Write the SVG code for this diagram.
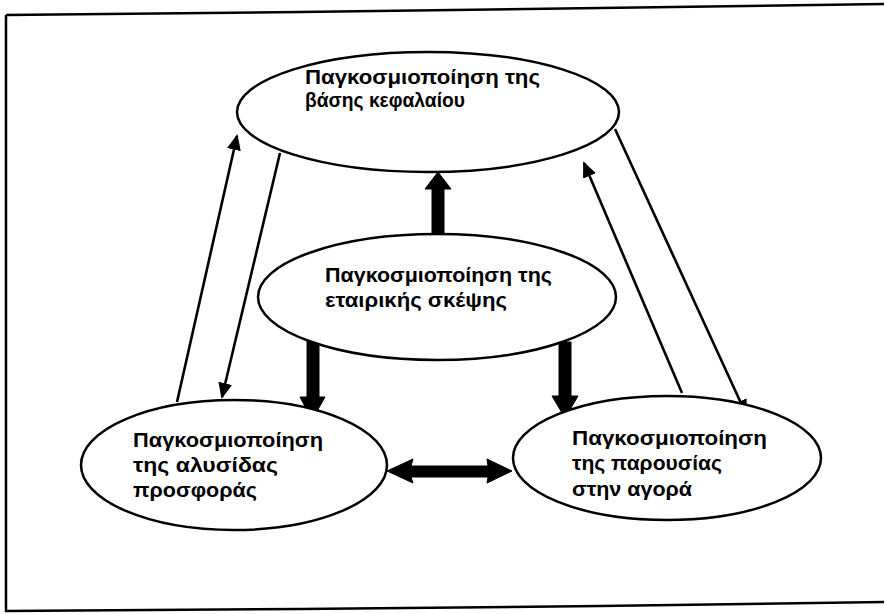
<svg xmlns="http://www.w3.org/2000/svg" width="885" height="614" viewBox="0 0 885 614">
<defs>
<style>
.frame{fill:none;stroke:#000;stroke-width:2.5}
.node ellipse{fill:#fff;stroke:#000;stroke-width:2.5}
.node text{font-family:"Liberation Sans",Arial,sans-serif;font-size:21px;font-weight:bold;fill:#000}
.node text.sm{font-size:20px}
.thin{fill:none;stroke:#000;stroke-width:2.6;marker-end:url(#ah)}
.thick{fill:#000;stroke:#000;stroke-width:1}
</style>
<marker id="ah" markerUnits="userSpaceOnUse" markerWidth="16" markerHeight="14" refX="14" refY="7" orient="auto">
<path d="M0,0 L16,7 L0,14 Z" fill="#000"/>
</marker>
</defs>
<rect x="0" y="0" width="885" height="614" fill="#fff"/>
<path class="frame" d="M6,15 L300,12 L600,8 L884,4 M6,15 L6,611 L300,609 L600,606 L884,602"/>
<g id="connectors">
<line class="thin" x1="177" y1="402" x2="237" y2="136"/>
<line class="thin" x1="280" y1="153" x2="222" y2="397"/>
<line class="thin" x1="615" y1="129" x2="746" y2="414"/>
<line class="thin" x1="682" y1="393" x2="584" y2="163"/>
<polygon class="thick" points="432,236 444,236 444,189 451,189 438,172 425,189 432,189"/>
<polygon class="thick" points="307,340 319,340 319,397 325,397 312,420 300,397 307,397"/>
<polygon class="thick" points="559,342 571,342 571,396 578,396 565,418 552,396 559,396"/>
<polygon class="thick" points="387,471 413,459 411,466 488,466 487,459 512,471 487,483 488,477 411,477 413,483"/>
</g>
<g id="node-capital" class="node">
<ellipse cx="428" cy="112" rx="191" ry="60"/>
<text class="sm" x="305" y="84" textLength="235" lengthAdjust="spacingAndGlyphs">Παγκοσμιοποίηση της</text>
<text class="sm" x="305" y="107" textLength="160" lengthAdjust="spacingAndGlyphs">βάσης κεφαλαίου</text>
</g>
<g id="node-thinking" class="node">
<ellipse cx="437" cy="297" rx="179" ry="63"/>
<text x="325" y="282" textLength="227" lengthAdjust="spacingAndGlyphs">Παγκοσμιοποίηση της</text>
<text x="325" y="307" textLength="182" lengthAdjust="spacingAndGlyphs">εταιρικής σκέψης</text>
</g>
<g id="node-supply" class="node">
<ellipse cx="234" cy="465" rx="153" ry="65"/>
<text x="133" y="447" textLength="190" lengthAdjust="spacingAndGlyphs">Παγκοσμιοποίηση</text>
<text x="133" y="472" textLength="145" lengthAdjust="spacingAndGlyphs">της αλυσίδας</text>
<text x="133" y="497" textLength="124" lengthAdjust="spacingAndGlyphs">προσφοράς</text>
</g>
<g id="node-market" class="node">
<ellipse cx="667" cy="458" rx="154" ry="62"/>
<text x="572" y="445" textLength="195" lengthAdjust="spacingAndGlyphs">Παγκοσμιοποίηση</text>
<text x="572" y="470" textLength="150" lengthAdjust="spacingAndGlyphs">της παρουσίας</text>
<text x="572" y="496" textLength="120" lengthAdjust="spacingAndGlyphs">στην αγορά</text>
</g>
</svg>
